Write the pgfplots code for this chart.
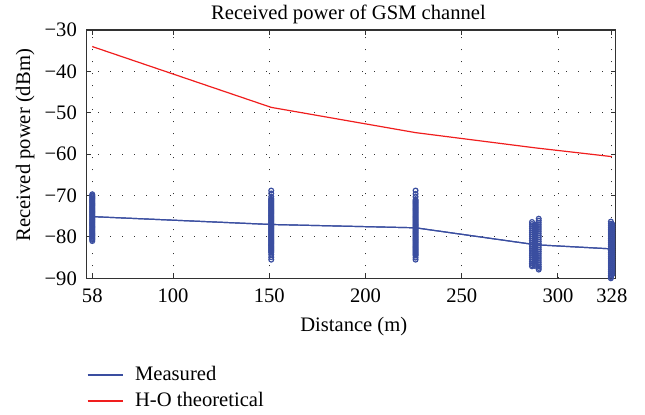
\documentclass[border=0pt]{standalone}
\usepackage{pgfplots}
\pgfplotsset{compat=1.18}
\usepackage{fontspec}
\setmainfont{Liberation Serif}
\definecolor{mblue}{RGB}{58,78,160}
\definecolor{hored}{RGB}{240,30,30}
\definecolor{axgray}{RGB}{50,50,50}
\begin{document}
\begin{tikzpicture}[font=\fontsize{10.3}{12}\selectfont]
\path[use as bounding box] (0,0) rectangle (322.5pt,207.5pt);
\begin{axis}[
  at={(43.25pt,68.35pt)}, anchor=south west,
  scale only axis, width=264.6pt, height=124.15pt,
  xmin=55, xmax=330, ymin=-90, ymax=-30,
  xtick={58,100,150,200,250,300,328},
  xticklabels={58,100,150,200,250,300,328},
  ytick={-90,-80,-70,-60,-50,-40,-30},
  yticklabels={−90,−80,−70,−60,−50,−40,−30},
  tick align=inside, tick pos=both, major tick length=2.5pt,
  xticklabel style={yshift=-1.5pt},
  yticklabel style={xshift=-1.3pt},
  grid=major,
  grid style={axgray, line width=0.45pt, dash pattern=on 0.5pt off 5.5pt},
  axis line style={axgray, line width=0.65pt},
  tick style={axgray, line width=0.5pt},
  title={Received power of GSM channel},
  every axis title shift=0pt,
  title style={at={(axis description cs:0.495,1)}, anchor=base, yshift=5pt},
  xlabel={Distance (m)},
  xlabel style={at={(axis description cs:0.505,0)}, anchor=base, yshift=-26.7pt},
  ylabel={Received power (dBm)},
  ylabel style={at={(axis description cs:-0.116,0.536)}, anchor=center},
  clip=false,
  legend cell align=left,
  legend image code/.code={\draw[#1, line width=0.8pt] (0pt,0pt) -- (17.5pt,0pt);},
  legend style={at={(axis description cs:0,0)}, anchor=north west,
    xshift=0pt, yshift=-43.8pt, draw=none, fill=none,
    inner sep=0pt, row sep=4.5pt, column sep=2.5pt,
    nodes={inner ysep=0pt, inner xsep=3.3pt}},
  scat/.style={only marks, mark=o, mark size=1.2pt, mblue, mark options={line width=0.6pt}, forget plot},
]
% lines (with legend)
\addplot[mblue, line width=0.6pt] coordinates {
(58,-75.1)(151,-77.0)(226,-77.8)(288.5,-81.9)(328,-82.9)};
\addlegendentry{Measured}
\addplot[hored, line width=0.6pt] coordinates {
(58,-34.0)(151,-48.7)(226,-54.8)(288.5,-58.5)(328,-60.6)};
\addlegendentry{H-O theoretical}
% measured samples (clusters)
\addplot[scat] coordinates {
(58,-69.7)(58,-70.2)(58,-70.7)(58,-71.2)(58,-71.7)(58,-72.2)(58,-72.7)(58,-73.2)
(58,-73.7)(58,-74.2)(58,-74.7)(58,-75.2)(58,-75.7)(58,-76.2)(58,-76.7)(58,-77.2)
(58,-77.7)(58,-78.2)(58,-78.7)(58,-79.2)(58,-79.7)(58,-80.2)(58,-80.7)(58,-81.0)
(58,-69.95)(58,-70.45)(58,-70.95)(58,-71.45)(58,-71.95)(58,-72.45)(58,-72.95)(58,-73.45)
(58,-73.95)(58,-74.45)(58,-74.95)(58,-75.45)(58,-75.95)(58,-76.45)(58,-76.95)(58,-77.45)
(58,-77.95)(58,-78.45)(58,-78.95)(58,-79.45)(58,-79.95)(58,-80.45)};
\addplot[scat] coordinates {
(151,-68.8)(151,-69.5)(151,-70.3)(151,-70.8)(151,-71.3)(151,-71.8)(151,-72.3)(151,-72.8)
(151,-73.3)(151,-73.8)(151,-74.3)(151,-74.8)(151,-75.3)(151,-75.8)(151,-76.3)(151,-76.8)
(151,-77.3)(151,-77.8)(151,-78.3)(151,-78.8)(151,-79.3)(151,-79.8)(151,-80.3)(151,-80.8)
(151,-81.3)(151,-81.8)(151,-82.3)(151,-82.8)(151,-83.3)(151,-83.8)(151,-84.3)(151,-84.9)
(151,-85.5)
(151,-71.05)(151,-71.55)(151,-72.05)(151,-72.55)(151,-73.05)(151,-73.55)(151,-74.05)
(151,-74.55)(151,-75.05)(151,-75.55)(151,-76.05)(151,-76.55)(151,-77.05)(151,-77.55)
(151,-78.05)(151,-78.55)(151,-79.05)(151,-79.55)(151,-80.05)(151,-80.55)(151,-81.05)
(151,-81.55)(151,-82.05)(151,-82.55)(151,-83.05)(151,-83.55)};
\addplot[scat] coordinates {
(226,-68.8)(226,-69.6)(226,-70.3)(226,-71.0)(226,-71.5)(226,-72.0)(226,-72.5)(226,-73.0)
(226,-73.5)(226,-74.0)(226,-74.5)(226,-75.0)(226,-75.5)(226,-76.0)(226,-76.5)(226,-77.0)
(226,-77.5)(226,-78.0)(226,-78.5)(226,-79.0)(226,-79.5)(226,-80.0)(226,-80.5)(226,-81.0)
(226,-81.5)(226,-82.0)(226,-82.5)(226,-83.0)(226,-83.5)(226,-84.0)(226,-84.5)(226,-85.0)
(226,-85.5)
(226,-71.25)(226,-71.75)(226,-72.25)(226,-72.75)(226,-73.25)(226,-73.75)(226,-74.25)
(226,-74.75)(226,-75.25)(226,-75.75)(226,-76.25)(226,-76.75)(226,-77.25)(226,-77.75)
(226,-78.25)(226,-78.75)(226,-79.25)(226,-79.75)(226,-80.25)(226,-80.75)(226,-81.25)
(226,-81.75)(226,-82.25)(226,-82.75)(226,-83.25)(226,-83.75)(226,-84.25)};
\addplot[scat] coordinates {
(286.5,-76.4)(286.5,-76.9)(286.5,-77.4)(286.5,-77.9)(286.5,-78.4)(286.5,-78.9)(286.5,-79.4)
(286.5,-79.9)(286.5,-80.4)(286.5,-80.9)(286.5,-81.4)(286.5,-81.9)(286.5,-82.4)(286.5,-82.9)
(286.5,-83.4)(286.5,-83.9)(286.5,-84.4)(286.5,-84.9)(286.5,-85.4)(286.5,-85.9)(286.5,-86.4)
(286.5,-86.8)(286.5,-87.1)
(288,-77.0)(288,-77.5)(288,-78.0)(288,-78.5)(288,-79.0)(288,-79.5)(288,-80.0)(288,-80.5)
(288,-81.0)(288,-81.5)(288,-82.0)(288,-82.5)(288,-83.0)(288,-83.5)(288,-84.0)(288,-84.5)
(288,-85.0)(288,-85.5)(288,-86.0)(288,-86.5)(288,-87.0)
(288,-77.25)(288,-77.75)(288,-78.25)(288,-78.75)(288,-79.25)(288,-79.75)(288,-80.25)
(288,-80.75)(288,-81.25)(288,-81.75)(288,-82.25)(288,-82.75)(288,-83.25)(288,-83.75)
(288,-84.25)(288,-84.75)(288,-85.25)(288,-85.75)(288,-86.25)(288,-86.75)
(290,-75.6)(290,-76.1)(290,-76.6)(290,-77.1)(290,-77.6)(290,-78.1)(290,-78.6)(290,-79.1)
(290,-79.6)(290,-80.1)(290,-80.6)(290,-81.1)(290,-81.6)(290,-82.1)(290,-82.6)(290,-83.1)
(290,-83.6)(290,-84.1)(290,-84.6)(290,-85.1)(290,-85.6)(290,-86.1)(290,-86.6)(290,-87.1)
(290,-87.5)(290,-87.9)};
\addplot[scat] coordinates {
(327.5,-76.3)(327.5,-76.8)(327.5,-77.3)(327.5,-77.8)(327.5,-78.3)(327.5,-78.8)(327.5,-79.3)
(327.5,-79.8)(327.5,-80.3)(327.5,-80.8)(327.5,-81.3)(327.5,-81.8)(327.5,-82.3)(327.5,-82.8)
(327.5,-83.3)(327.5,-83.8)(327.5,-84.3)(327.5,-84.8)(327.5,-85.3)(327.5,-85.8)(327.5,-86.3)
(327.5,-86.8)(327.5,-87.3)(327.5,-87.8)(327.5,-88.3)(327.5,-88.8)(327.5,-89.3)(327.5,-89.7)
(327.5,-90.0)
(328.3,-77.0)(328.3,-77.5)(328.3,-78.0)(328.3,-78.5)(328.3,-79.0)(328.3,-79.5)(328.3,-80.0)
(328.3,-80.5)(328.3,-81.0)(328.3,-81.5)(328.3,-82.0)(328.3,-82.5)(328.3,-83.0)(328.3,-83.5)
(328.3,-84.0)(328.3,-84.5)(328.3,-85.0)(328.3,-85.5)(328.3,-86.0)(328.3,-86.5)(328.3,-87.0)
(328.3,-87.5)(328.3,-88.0)(328.3,-88.5)(328.3,-89.0)};
% redraw measured line on top
\addplot[mblue, line width=0.6pt, forget plot] coordinates {
(58,-75.1)(151,-77.0)(226,-77.8)(288.5,-81.9)(328,-82.9)};
\end{axis}
\end{tikzpicture}
\end{document}
